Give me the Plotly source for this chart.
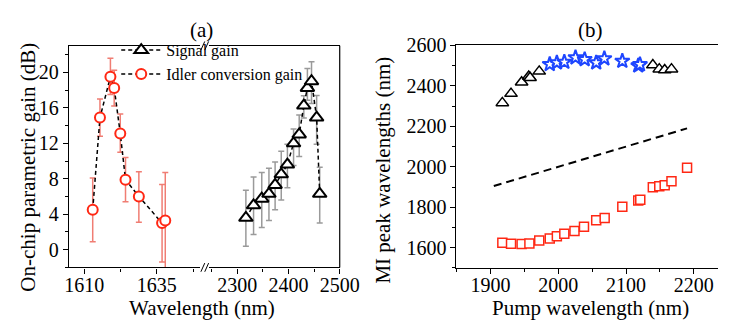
import plotly.graph_objects as go

W, H = 738, 322
def px(x): return x / W
def py(y): return 1 - y / H

# ---------------- Panel (a) data ----------------
sig_wl = [2317, 2332, 2348, 2362, 2374, 2386, 2398, 2410, 2421, 2430, 2437, 2445, 2455, 2461]
sig_gain = [3.6, 5.0, 5.75, 6.3, 7.3, 8.5, 9.6, 12.0, 13.0, 16.25, 18.25, 19.0, 14.9, 6.3]
sig_err_hi = [3.1, 3.2, 2.95, 2.9, 2.6, 2.6, 2.3, 1.6, 2.2, 1.1, 2.2, 2.2, 2.5, 3.0]
sig_err_lo = [3.2, 3.3, 3.25, 3.0, 2.8, 2.9, 2.6, 2.5, 2.5, 1.4, 1.4, 2.5, 3.0, 3.3]

idl_wl = [1612.9, 1615.4, 1619.0, 1620.3, 1622.4, 1624.2, 1628.8, 1636.8, 1637.9]
idl_gain = [4.5, 14.9, 19.5, 18.25, 13.1, 7.9, 6.0, 3.0, 3.3]
idl_err_hi = [3.6, 2.1, 2.1, 2.0, 2.2, 2.5, 2.8, 4.35, 5.4]
idl_err_lo = [3.6, 2.1, 2.0, 2.05, 2.1, 2.5, 2.9, 4.4, 5.8]

# ---------------- Panel (b) data ----------------
tri_pump = [1917.6, 1930.4, 1946, 1956.5, 1958.5, 1972, 2139.5, 2149, 2157, 2167]
tri_wl = [2316, 2362, 2418, 2447, 2440, 2472, 2503, 2483, 2479, 2483]

star_pump = [1987.5, 1998, 2009, 2025.5, 2039, 2056, 2068, 2094.5, 2118, 2120.5]
star_wl = [2507, 2515, 2518, 2540, 2531, 2515, 2535, 2523, 2500, 2506]

sq_pump = [1917.6, 1930.4, 1946, 1957.5, 1972, 1987.5, 1998, 2009, 2024, 2038,
           2056, 2068.5, 2094.5, 2118, 2121, 2139.5, 2149, 2157, 2167, 2190]
sq_wl = [1624, 1619, 1618, 1621, 1635, 1645, 1656, 1669, 1682, 1704,
         1736, 1747, 1803, 1833, 1837, 1899, 1904, 1909, 1928, 1995]

line_pump = [1905, 2190]
line_wl = [1905, 2190]

FONT = "Liberation Serif, Times New Roman, DejaVu Serif, serif"
RED = "rgb(255,40,20)"

fig = go.Figure()

fig.add_trace(go.Scatter(
    x=sig_wl, y=sig_gain, xaxis="x2", yaxis="y", mode="lines+markers",
    name="Signal gain", cliponaxis=False,
    line=dict(color="black", width=1.5, dash="4px,3px"),
    marker=dict(symbol="triangle-up", size=12, color="white",
                line=dict(color="black", width=2)),
    error_y=dict(type="data", symmetric=False, array=sig_err_hi,
                 arrayminus=sig_err_lo, color="#9a9a9a", thickness=1.5, width=3),
))
fig.add_trace(go.Scatter(
    x=idl_wl, y=idl_gain, xaxis="x", yaxis="y", mode="lines+markers",
    name="Idler conversion gain", cliponaxis=False,
    line=dict(color="black", width=1.5, dash="4px,3px"),
    marker=dict(symbol="circle", size=10, color="white",
                line=dict(color=RED, width=2)),
    error_y=dict(type="data", symmetric=False, array=idl_err_hi,
                 arrayminus=idl_err_lo, color="rgb(240,125,115)", thickness=1.5, width=3),
))

# panel (b)
fig.add_trace(go.Scatter(
    x=line_pump, y=line_wl, xaxis="x3", yaxis="y3", mode="lines", showlegend=False,
    line=dict(color="black", width=2, dash="8px,5px"),
))
fig.add_trace(go.Scatter(
    x=tri_pump, y=tri_wl, xaxis="x3", yaxis="y3", mode="markers", showlegend=False,
    marker=dict(symbol="triangle-up", size=11, color="white",
                line=dict(color="black", width=1.5)),
))
fig.add_trace(go.Scatter(
    x=star_pump, y=star_wl, xaxis="x3", yaxis="y3", mode="markers", showlegend=False,
    marker=dict(symbol="star", size=11, color="white",
                line=dict(color="rgb(30,70,255)", width=2)),
))
fig.add_trace(go.Scatter(
    x=sq_pump, y=sq_wl, xaxis="x3", yaxis="y3", mode="markers", showlegend=False,
    marker=dict(symbol="square", size=9, color="white",
                line=dict(color=RED, width=1.5)),
))

tickfont = dict(family=FONT, size=20, color="black")
common = dict(showline=True, linecolor="black", linewidth=1.2, ticks="outside",
              ticklen=5, tickwidth=1.2, tickcolor="black", showgrid=False,
              zeroline=False, tickfont=tickfont)
xcommon = dict(ticklabelstandoff=-6, **common)
minor_common = dict(ticks="outside", ticklen=3, tickwidth=1, tickcolor="black", showgrid=False)

fig.update_layout(
    font=dict(family=FONT, color="black"),
    width=W, height=H, margin=dict(l=0, r=0, t=0, b=0),
    paper_bgcolor="white", plot_bgcolor="white",
    showlegend=True,
    legend=dict(x=px(116), y=py(23), xanchor="left", yanchor="top",
                font=dict(family=FONT, size=16, color="black"),
                bgcolor="rgba(0,0,0,0)", itemwidth=40, tracegroupgap=0),
    xaxis=dict(domain=[px(67), px(203)], range=[1604.67, 1650], anchor="y",
               tickvals=[1610, 1635], mirror=True,
               minor=dict(tickvals=[1622.5, 1647.5], **minor_common), **xcommon),
    xaxis2=dict(domain=[px(212), px(347)], range=[2245.3, 2500], anchor="y",
                tickvals=[2300, 2400, 2500], mirror=True,
                minor=dict(tickvals=[2250, 2350, 2450], **minor_common), **xcommon),
    yaxis=dict(domain=[py(265.5), py(36)], range=[-2, 23], anchor="x",
               tickvals=[0, 4, 8, 12, 16, 20],
               minor=dict(tickvals=[-2, 2, 6, 10, 14, 18, 22], **minor_common), **common),
    xaxis3=dict(domain=[px(467.7), 1], range=[1850, 2235.6], anchor="y3",
                tickvals=[1900, 2000, 2100, 2200], mirror=True,
                minor=dict(tickvals=[1850, 1950, 2050, 2150], **minor_common), **xcommon),
    yaxis3=dict(domain=[py(266), py(35.7)], range=[1500, 2600], anchor="x3",
                tickvals=[1600, 1800, 2000, 2200, 2400, 2600],
                minor=dict(tickvals=[1500, 1700, 1900, 2100, 2300, 2500], **minor_common), **common),
)

# right border of panel (a)
shapes = [dict(type="line", xref="paper", yref="paper", x0=px(347), x1=px(347),
               y0=py(265.5), y1=py(36), line=dict(color="black", width=1.2))]
# axis break marks
for yb in (36, 265.5):
    for xb in (203.5, 207.5):
        shapes.append(dict(type="line", xref="paper", yref="paper",
                           x0=px(xb), x1=px(xb + 4), y0=py(yb + 4.5), y1=py(yb - 4.5),
                           line=dict(color="black", width=1)))
fig.update_layout(shapes=shapes)

titlefont = dict(family=FONT, size=21, color="black")
ann = [
    dict(text="(a)", x=px(204), y=py(20)),
    dict(text="(b)", x=px(606), y=py(20)),
    dict(text="Wavelength (nm)", x=px(205), y=py(307)),
    dict(text="Pump wavelength (nm)", x=px(606), y=py(307)),
    dict(text="On-chip parametric gain (dB)", x=px(25), y=py(162), textangle=-90),
    dict(text="MI peak wavelengths (nm)", x=px(392), y=py(165), textangle=-90),
]
for a in ann:
    a.update(xref="paper", yref="paper", showarrow=False, xanchor="center",
             yanchor="middle", font=titlefont)
fig.update_layout(annotations=ann)

fig.write_html("out.html")
